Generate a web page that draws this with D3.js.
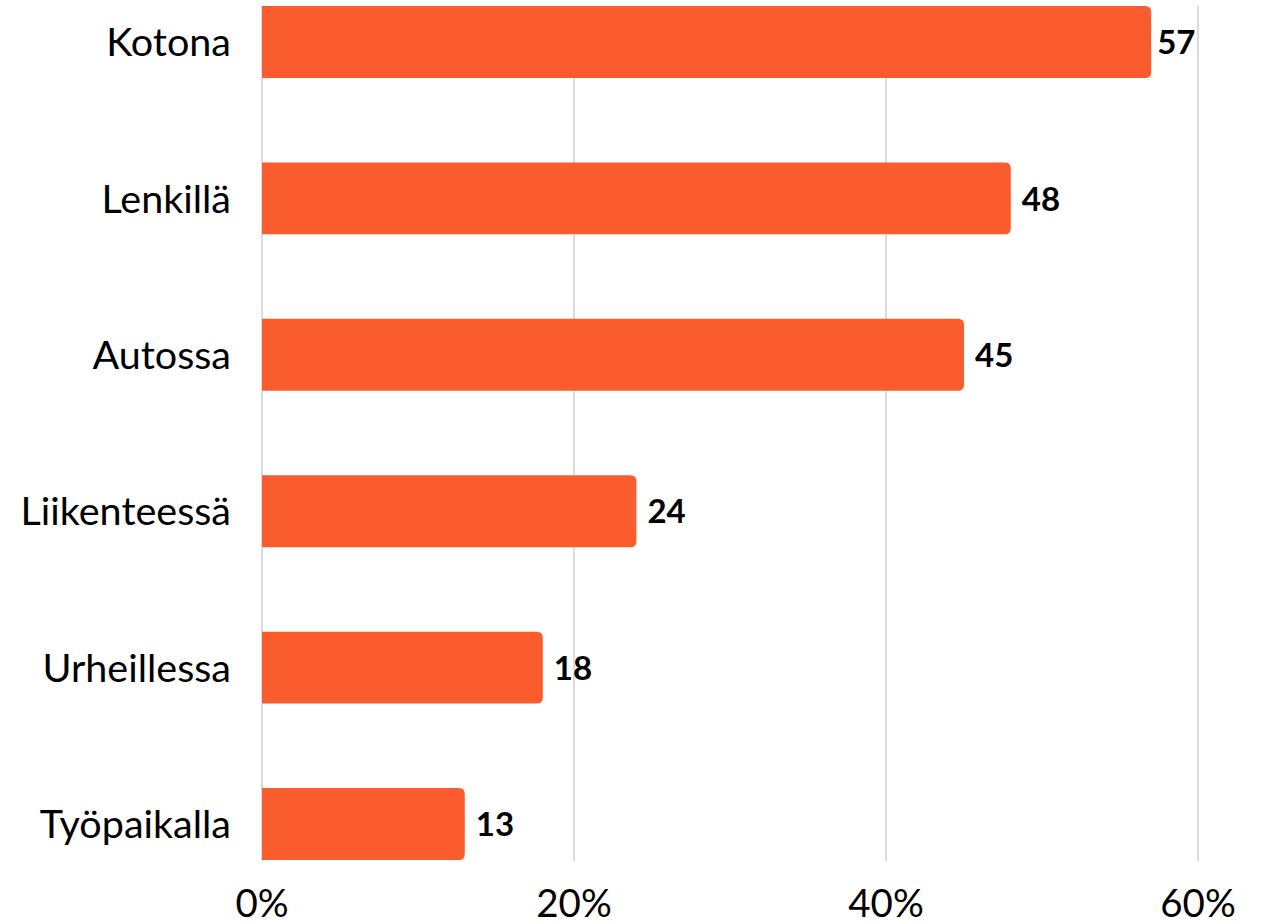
<!DOCTYPE html>
<html>
<head><meta charset="utf-8">
<style>
  body { margin: 0; background: #fff; }
  text { font-family: Lato, sans-serif; }
</style>
</head>
<body>
<script src="https://d3js.org/d3.v7.min.js"></script>
<script>
var categories = ["Kotona", "Lenkillä", "Autossa", "Liikenteessä", "Urheillessa", "Työpaikalla"];
var values = [57, 48, 45, 24, 18, 13];
var ticks = [0, 20, 40, 60];

var width = 1266, height = 924;
var x0 = 262, x1 = 1198, yTop = 6, yBot = 860;

var svg = d3.select("body").append("svg")
    .attr("width", width)
    .attr("height", height);

var x = d3.scaleLinear().domain([0, 60]).range([x0, x1]);
var y = d3.scaleBand().domain(categories).range([yTop, yBot])
    .paddingInner(0.54).paddingOuter(0);

// gridlines
svg.append("g").selectAll("line")
  .data(ticks)
  .enter().append("line")
    .attr("x1", d => x(d)).attr("x2", d => x(d))
    .attr("y1", yTop).attr("y2", yBot + 1)
    .attr("stroke", "#d0d0d0")
    .attr("stroke-width", 1.5);

// bars, rounded on the right only
var r = 6;
svg.append("g").selectAll("path")
  .data(values)
  .enter().append("path")
    .attr("fill", "#fb5c2d")
    .attr("d", function(d, i) {
      var left = x(0), right = x(d), top = y(categories[i]), h = y.bandwidth();
      return "M" + left + "," + top +
        "H" + (right - r) +
        "Q" + right + "," + top + " " + right + "," + (top + r) +
        "V" + (top + h - r) +
        "Q" + right + "," + (top + h) + " " + (right - r) + "," + (top + h) +
        "H" + left + "Z";
    });

// value labels (kept left of the last gridline)
svg.append("g").selectAll("text")
  .data(values)
  .enter().append("text")
    .attr("y", (d, i) => y(categories[i]) + y.bandwidth() / 2)
    .attr("dy", "0.37em")
    .attr("font-size", 33)
    .attr("font-weight", "bold")
    .attr("fill", "#000")
    .text(d => d)
    .attr("x", function(d) {
      var w = this.getComputedTextLength();
      return Math.max(x(d) + 6, Math.min(x(d) + 11, x1 - 5 - w));
    });

// category labels
svg.append("g").selectAll("text")
  .data(categories)
  .enter().append("text")
    .attr("x", 231)
    .attr("y", d => y(d) + y.bandwidth() / 2)
    .attr("dy", "0.36em")
    .attr("text-anchor", "end")
    .attr("font-size", 39.5)
    .attr("fill", "#000")
    .text(d => d);

// x tick labels
svg.append("g").selectAll("text")
  .data(ticks)
  .enter().append("text")
    .attr("x", d => x(d))
    .attr("y", 917)
    .attr("text-anchor", "middle")
    .attr("font-size", 38.5)
    .attr("fill", "#000")
    .text(d => d + "%");
</script>
</body>
</html>
